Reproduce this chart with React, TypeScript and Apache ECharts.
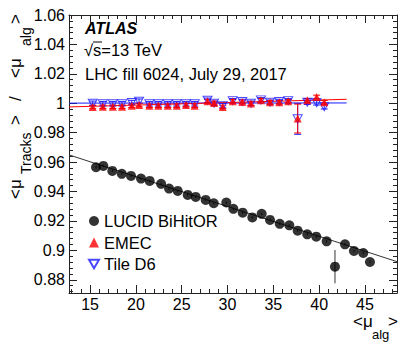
import React, { useEffect, useRef } from "react";
import * as echarts from "echarts";

const FONT = "'Liberation Sans', Arial, Helvetica, sans-serif";

// LUCID BiHitOR
const lucidMu = [15.65, 16.45, 17.43, 18.46, 19.47, 20.56, 21.51, 22.75, 23.62, 24.57, 25.66, 26.53, 27.62, 28.5, 29.87, 30.64, 31.66, 32.71, 33.73, 34.64, 35.7, 36.75, 37.66, 38.7, 39.69, 40.82, 41.73, 42.82, 43.8, 44.82, 45.55];
const lucidRatio = [0.9565, 0.9574, 0.954, 0.952, 0.9506, 0.9488, 0.9472, 0.9452, 0.942, 0.9404, 0.9377, 0.9363, 0.9343, 0.932, 0.9325, 0.9282, 0.9256, 0.9224, 0.9248, 0.9207, 0.918, 0.917, 0.9134, 0.9109, 0.9093, 0.9061, 0.8889, 0.9041, 0.8996, 0.8982, 0.8921];
const lucidErr = [0.0008, 0.0008, 0.0008, 0.0008, 0.0008, 0.0008, 0.0008, 0.0008, 0.0008, 0.0008, 0.0008, 0.0008, 0.0008, 0.0008, 0.0008, 0.0008, 0.0008, 0.0008, 0.0008, 0.0008, 0.0008, 0.0008, 0.0008, 0.0008, 0.0008, 0.0008, 0.0113, 0.0008, 0.0008, 0.0008, 0.0008];

// EMEC and Tile D6
const calMu = [15.29, 16.39, 17.48, 18.49, 19.55, 20.35, 21.47, 22.45, 23.48, 24.46, 25.47, 26.42, 27.82, 28.53, 29.48, 30.57, 31.61, 32.56, 33.65, 34.64, 35.65, 36.63, 37.66, 38.71, 39.73, 40.56];
const emecRatio = [0.9975, 0.9976, 0.9976, 0.9976, 0.9983, 0.9988, 0.9983, 0.9983, 0.9983, 0.9983, 0.9988, 0.9983, 1.0014, 1.0002, 0.9975, 1.0014, 1.0009, 0.9998, 1.002, 1.0007, 1.0007, 1.0014, 0.9896, 1.002, 1.0043, 1.0007];
const emecErr = [0.0012, 0.0012, 0.0012, 0.0012, 0.0012, 0.0012, 0.0012, 0.0012, 0.0012, 0.0012, 0.0012, 0.0012, 0.0012, 0.0012, 0.0012, 0.0012, 0.0012, 0.0012, 0.0012, 0.0012, 0.0012, 0.0012, 0.0098, 0.0012, 0.0012, 0.0012];
const tileRatio = [1.0, 0.9996, 0.9996, 0.9996, 1.0005, 1.0014, 0.9996, 0.9996, 0.9996, 0.9996, 0.9996, 0.9996, 1.002, 1.0, 0.9984, 1.0018, 1.0012, 1.0, 1.0023, 1.0007, 1.0012, 1.0018, 0.9894, 1.0007, 1.0003, 0.9976];
const tileErr = [0.0015, 0.0015, 0.0015, 0.0015, 0.0015, 0.0015, 0.0015, 0.0015, 0.0015, 0.0015, 0.0015, 0.0015, 0.0015, 0.0015, 0.0015, 0.0015, 0.0015, 0.0015, 0.0015, 0.0015, 0.0015, 0.0015, 0.0105, 0.0015, 0.0015, 0.0015];

// linear fits (end points)
const lucidFitMu = [12.7, 48.5];
const lucidFitRatio = [0.9649, 0.8923];
const emecFitMu = [12.7, 43.0];
const emecFitRatio = [0.9975, 1.0027];
const tileFitMu = [12.7, 43.0];
const tileFitRatio = [1.0001, 1.0002];

// axes
const X_MIN = 12.7;
const X_MAX = 48.5;
const Y_MIN = 0.871;
const Y_MAX = 1.06;
const xMajorTicks = [15, 20, 25, 30, 35, 40, 45];
const yMajorTicks = [0.88, 0.9, 0.92, 0.94, 0.96, 0.98, 1, 1.02, 1.04, 1.06];

const xMinorTicks: number[] = [];
for (let v = 13; v <= 48; v++) xMinorTicks.push(v);
const yMinorTicks: number[] = [];
for (let k = 0; k <= 47; k++) yMinorTicks.push(Math.round((1.06 - 0.004 * k) * 1000) / 1000);

const RED = "#ff0000";
const BLUE = "#1a1aff";
const AXIS = "#222";

function errorBars(name: string, mu: number[], val: number[], err: number[], color: string, cap: number) {
  return {
    type: "custom",
    name,
    xAxisIndex: 0,
    yAxisIndex: 0,
    silent: true,
    z: 3,
    data: mu.map((m, i) => [m, val[i], err[i]]),
    encode: { x: 0, y: 1 },
    renderItem: (_params: any, api: any) => {
      const x = api.value(0);
      const y = api.value(1);
      const e = api.value(2);
      const p1 = api.coord([x, y + e]);
      const p2 = api.coord([x, y - e]);
      const st = { stroke: color, lineWidth: 1 };
      const children: any[] = [
        { type: "line", shape: { x1: p1[0], y1: p1[1], x2: p2[0], y2: p2[1] }, style: st },
      ];
      if (cap > 0) {
        children.push({ type: "line", shape: { x1: p1[0] - cap, y1: p1[1], x2: p1[0] + cap, y2: p1[1] }, style: st });
        children.push({ type: "line", shape: { x1: p2[0] - cap, y1: p2[1], x2: p2[0] + cap, y2: p2[1] }, style: st });
      }
      return { type: "group", children };
    },
  };
}

function fitLine(name: string, mu: number[], val: number[], color: string) {
  return {
    type: "line",
    name,
    xAxisIndex: 0,
    yAxisIndex: 0,
    silent: true,
    showSymbol: false,
    symbol: "none",
    z: 2,
    data: mu.map((m, i) => [m, val[i]]),
    lineStyle: { color, width: 1 },
  };
}

export default function App() {
  const ref = useRef<HTMLDivElement>(null);
  useEffect(() => {
    document.body.style.margin = "0";
    if (!ref.current) return;
    const chart = echarts.init(ref.current, undefined, { renderer: "svg" });

    const gridBox = { left: 69, right: 17, top: 15, bottom: 60 };
    const lineStyle = { color: AXIS, width: 1 };
    const xBase = { type: "value", min: X_MIN, max: X_MAX, splitLine: { show: false }, axisLabel: { show: false } };
    const yBase = { type: "value", min: Y_MIN, max: Y_MAX, splitLine: { show: false }, axisLabel: { show: false } };

    const option: any = {
      animation: false,
      backgroundColor: "#fff",
      grid: [
        { ...gridBox },
        { ...gridBox },
        { ...gridBox },
        { ...gridBox },
      ],
      xAxis: [
        {
          ...xBase, gridIndex: 0, position: "bottom",
          axisLine: { show: true, lineStyle },
          axisTick: { show: true, inside: true, length: 8, customValues: xMajorTicks, lineStyle },
          axisLabel: { show: true, customValues: xMajorTicks, fontSize: 16, margin: 3, color: "#000", fontFamily: FONT },
        },
        {
          ...xBase, gridIndex: 1, position: "top",
          axisLine: { show: true, lineStyle },
          axisTick: { show: true, inside: true, length: 8, customValues: xMajorTicks, lineStyle },
        },
        {
          ...xBase, gridIndex: 2, position: "bottom",
          axisLine: { show: false },
          axisTick: { show: true, inside: true, length: 4, customValues: xMinorTicks, lineStyle },
        },
        {
          ...xBase, gridIndex: 3, position: "top",
          axisLine: { show: false },
          axisTick: { show: true, inside: true, length: 4, customValues: xMinorTicks, lineStyle },
        },
      ],
      yAxis: [
        {
          ...yBase, gridIndex: 0, position: "left",
          axisLine: { show: true, lineStyle },
          axisTick: { show: true, inside: true, length: 8, customValues: yMajorTicks, lineStyle },
          axisLabel: { show: true, customValues: yMajorTicks, fontSize: 16, margin: 4, color: "#000", fontFamily: FONT },
        },
        {
          ...yBase, gridIndex: 1, position: "right",
          axisLine: { show: true, lineStyle },
          axisTick: { show: true, inside: true, length: 8, customValues: yMajorTicks, lineStyle },
        },
        {
          ...yBase, gridIndex: 2, position: "left",
          axisLine: { show: false },
          axisTick: { show: true, inside: true, length: 4, customValues: yMinorTicks, lineStyle },
        },
        {
          ...yBase, gridIndex: 3, position: "right",
          axisLine: { show: false },
          axisTick: { show: true, inside: true, length: 4, customValues: yMinorTicks, lineStyle },
        },
      ],
      legend: {
        orient: "vertical",
        left: 88,
        top: 212.5,
        padding: 0,
        itemWidth: 10,
        itemHeight: 10,
        itemGap: 4.5,
        textStyle: { fontSize: 16.5, color: "#000", fontFamily: FONT },
        data: ["LUCID BiHitOR", "EMEC", "Tile D6"],
        selectedMode: false,
      },
      series: [
        fitLine("LUCID fit", lucidFitMu, lucidFitRatio, "#333"),
        fitLine("Tile fit", tileFitMu, tileFitRatio, BLUE),
        fitLine("EMEC fit", emecFitMu, emecFitRatio, RED),
        errorBars("LUCID err", lucidMu, lucidRatio, lucidErr, "#333", 0),
        errorBars("Tile err", calMu, tileRatio, tileErr, BLUE, 3.5),
        errorBars("EMEC err", calMu, emecRatio, emecErr, RED, 3.5),
        {
          type: "scatter",
          name: "LUCID BiHitOR",
          xAxisIndex: 0,
          yAxisIndex: 0,
          symbol: "circle",
          symbolSize: 10,
          z: 5,
          itemStyle: { color: "#000" },
          data: lucidMu.map((m, i) => [m, lucidRatio[i]]),
        },
        {
          type: "scatter",
          name: "Tile D6",
          xAxisIndex: 0,
          yAxisIndex: 0,
          symbol: "path://M0,0L10,0L5,8.66Z",
          symbolSize: [9, 8],
          z: 5,
          itemStyle: { color: "rgba(255,255,255,0)", borderColor: BLUE, borderWidth: 1 },
          data: calMu.map((m, i) => [m, tileRatio[i]]),
        },
        {
          type: "scatter",
          name: "EMEC",
          xAxisIndex: 0,
          yAxisIndex: 0,
          symbol: "triangle",
          symbolSize: 8,
          z: 6,
          itemStyle: { color: RED },
          data: calMu.map((m, i) => [m, emecRatio[i]]),
        },
      ],
      graphic: [
        { type: "text", x: 85, y: 28, style: { text: "ATLAS", font: `italic bold 16px ${FONT}`, fill: "#000", textVerticalAlign: "middle" } },
        { type: "text", x: 84, y: 50, style: { text: "√s=13 TeV", font: `16.5px ${FONT}`, fill: "#000", textVerticalAlign: "middle" } },
        { type: "line", shape: { x1: 93, y1: 42, x2: 102, y2: 42 }, style: { stroke: "#000", lineWidth: 1 } },
        { type: "text", x: 85, y: 74, style: { text: "LHC fill 6024, July 29, 2017", font: `16.5px ${FONT}`, fill: "#000", textVerticalAlign: "middle" } },
        // y axis title (rotated)
        { type: "text", x: 15, y: 199, rotation: Math.PI / 2, style: { text: "<μ", font: `17px ${FONT}`, fill: "#000", textAlign: "left", textVerticalAlign: "middle" } },
        { type: "text", x: 26, y: 174, rotation: Math.PI / 2, style: { text: "Tracks", font: `14px ${FONT}`, fill: "#000", textAlign: "left", textVerticalAlign: "middle" } },
        { type: "text", x: 15, y: 125, rotation: Math.PI / 2, style: { text: ">", font: `17px ${FONT}`, fill: "#000", textAlign: "left", textVerticalAlign: "middle" } },
        { type: "text", x: 15, y: 101, rotation: Math.PI / 2, style: { text: "/", font: `17px ${FONT}`, fill: "#000", textAlign: "left", textVerticalAlign: "middle" } },
        { type: "text", x: 15, y: 78, rotation: Math.PI / 2, style: { text: "<μ", font: `17px ${FONT}`, fill: "#000", textAlign: "left", textVerticalAlign: "middle" } },
        { type: "text", x: 26, y: 46, rotation: Math.PI / 2, style: { text: "alg", font: `14px ${FONT}`, fill: "#000", textAlign: "left", textVerticalAlign: "middle" } },
        { type: "text", x: 15, y: 24, rotation: Math.PI / 2, style: { text: ">", font: `17px ${FONT}`, fill: "#000", textAlign: "left", textVerticalAlign: "middle" } },
        // x axis title
        { type: "text", x: 353, y: 321, style: { text: "<μ", font: `17px ${FONT}`, fill: "#000", textVerticalAlign: "middle" } },
        { type: "text", x: 372, y: 334, style: { text: "alg", font: `13px ${FONT}`, fill: "#000", textVerticalAlign: "middle" } },
        { type: "text", x: 388, y: 321, style: { text: ">", font: `17px ${FONT}`, fill: "#000", textVerticalAlign: "middle" } },
      ],
    };
    chart.setOption(option);
    return () => chart.dispose();
  }, []);
  return <div ref={ref} style={{ width: 414, height: 353 }} />;
}
